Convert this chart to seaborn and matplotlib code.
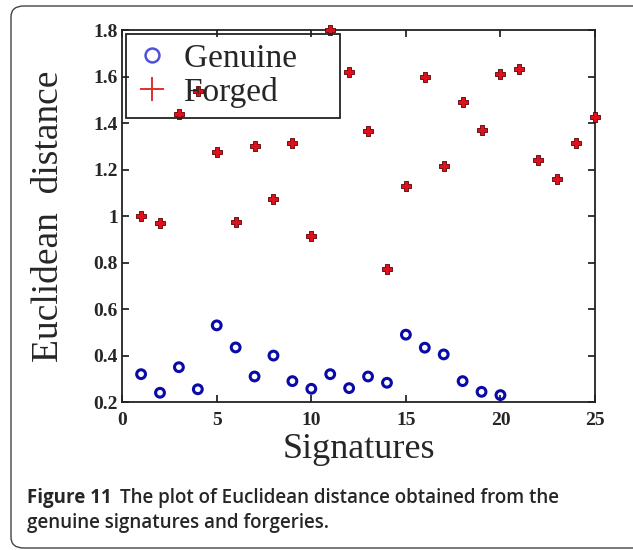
import numpy as np
import pandas as pd
import matplotlib
matplotlib.use('Agg')
import matplotlib.pyplot as plt
import seaborn as sns
from matplotlib.patches import FancyBboxPatch
from matplotlib.lines import Line2D

sns.set_style('ticks')
plt.rcParams['font.family'] = ['Liberation Serif', 'DejaVu Serif']
plt.rcParams['axes.linewidth'] = 1.3

# 数据
genuine_idx = list(range(1, 21))
genuine_dist = [0.32, 0.24, 0.35, 0.255, 0.53, 0.435, 0.31, 0.40, 0.29, 0.257,
                0.32, 0.26, 0.31, 0.283, 0.49, 0.434, 0.405, 0.29, 0.244, 0.23]
forged_idx = list(range(1, 26))
forged_dist = [1.00, 0.97, 1.44, 1.54, 1.275, 0.975, 1.30, 1.072, 1.313, 0.915,
               1.80, 1.62, 1.366, 0.772, 1.13, 1.60, 1.216, 1.49, 1.37, 1.613,
               1.635, 1.241, 1.162, 1.316, 1.427]

x_ticks = [0, 5, 10, 15, 20, 25]
y_ticks = [0.2, 0.4, 0.6, 0.8, 1.0, 1.2, 1.4, 1.6, 1.8]
y_ticklabels = ['0.2', '0.4', '0.6', '0.8', '1', '1.2', '1.4', '1.6', '1.8']

gen_df = pd.DataFrame({'Signatures': genuine_idx, 'dist': genuine_dist})
forg_df = pd.DataFrame({'Signatures': forged_idx, 'dist': forged_dist})

fig = plt.figure(figsize=(6.33, 5.5), dpi=100)
ax = fig.add_axes([0.193, 0.269, 0.747, 0.676])

sns.scatterplot(data=forg_df, x='Signatures', y='dist', ax=ax, marker='P',
                s=55, color='#e0101a', edgecolor='#5a0008', linewidth=0.6,
                zorder=3, clip_on=False)
sns.scatterplot(data=gen_df, x='Signatures', y='dist', ax=ax, marker='o',
                s=40, facecolor='none', edgecolor='#0a0aa8', linewidth=2.2,
                zorder=3, clip_on=False)

ax.set_xlim(0, 25)
ax.set_ylim(0.2, 1.8)
ax.set_xticks(x_ticks)
ax.set_xticklabels([str(t) for t in x_ticks], fontsize=14, fontweight='bold')
ax.set_yticks(y_ticks)
ax.set_yticklabels(y_ticklabels, fontsize=14, fontweight='bold')
ax.tick_params(direction='in', length=5, width=1.3, top=True, right=True)
ax.tick_params(axis='x', pad=7)
ax.tick_params(axis='y', pad=3)

ax.set_xlabel('Signatures', fontsize=26, labelpad=3)
ax.set_ylabel('Euclidean  distance', fontsize=27, labelpad=20)

for sp in ax.spines.values():
    sp.set_color('#222222')

# 图例
handles = [Line2D([], [], marker='o', linestyle='none', markersize=10,
                  markerfacecolor='none', markeredgecolor='#5050d8', markeredgewidth=1.8),
           Line2D([], [], marker='+', linestyle='none', markersize=17,
                  color='#e03030', markeredgewidth=1.4)]
leg = ax.legend(handles, ['Genuine    ', 'Forged    '], loc='upper left', fontsize=24,
                frameon=True, fancybox=False, edgecolor='#222222',
                facecolor='none', framealpha=1, borderaxespad=0.1,
                handletextpad=0.45, handlelength=1.0, borderpad=0.3,
                labelspacing=0.08)
leg.get_frame().set_linewidth(1.3)

# 图注
cap_font = ['Open Sans', 'DejaVu Sans']
fig.text(0.043, 0.0855, 'Figure 11', fontsize=13.5, fontweight='bold',
         family=cap_font, va='baseline')
fig.text(0.189, 0.0855, 'The plot of Euclidean distance obtained from the',
         fontsize=13.5, fontweight='semibold', family=cap_font, va='baseline')
fig.text(0.043, 0.040, 'genuine signatures and forgeries.', fontsize=13.5,
         fontweight='semibold', family=cap_font, va='baseline')

# 外框
box = FancyBboxPatch((11 / 633, 2 / 550), 640 / 633, 542 / 550,
                     boxstyle='round,pad=0,rounding_size=0.02',
                     transform=fig.transFigure, facecolor='none',
                     edgecolor='#444444', linewidth=1.0, clip_on=False)
fig.patches.append(box)

fig.savefig('out.png', dpi=100)
